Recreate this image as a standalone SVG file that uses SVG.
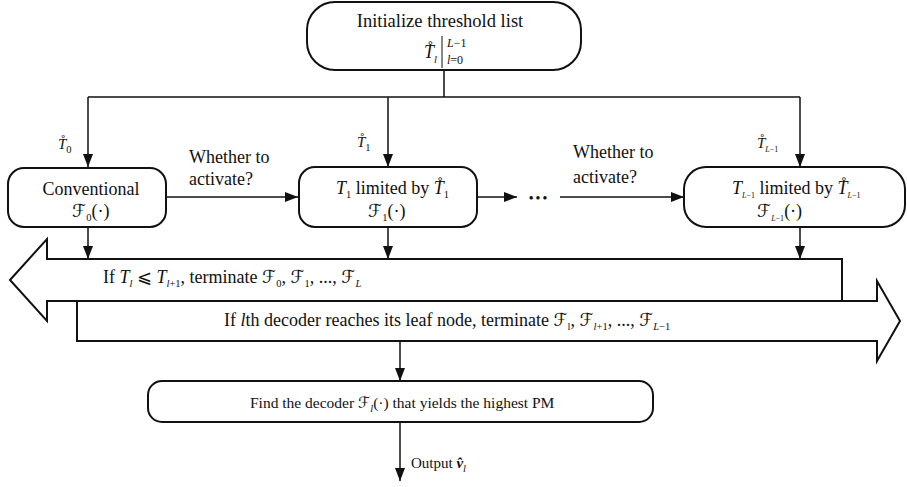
<svg xmlns="http://www.w3.org/2000/svg" width="907" height="487" viewBox="0 0 907 487" font-family="'Liberation Serif', 'DejaVu Serif', serif">
  <style>
    text { font-family: "Liberation Serif", "DejaVu Serif", serif; fill: #111; }
    .t18 { font-size: 18px; }
    .t17 { font-size: 18px; }
    .t16 { font-size: 15.5px; }
    .it { font-style: italic; }
    .scr { font-family: "DejaVu Serif", "DejaVu Sans", serif; font-style: italic; }
    .sub { font-size: 10.5px; }
    .tiny { font-size: 8px; }
    .box { fill: #fff; stroke: #111; stroke-width: 2; }
    .band { fill: #fff; stroke: #111; stroke-width: 2; }
    .wire { fill: none; stroke: #111; stroke-width: 1.5; }
  </style>
  <defs>
    <marker id="arrow" viewBox="0 0 13 10" refX="13" refY="5" markerWidth="13" markerHeight="10" markerUnits="userSpaceOnUse" orient="auto">
      <path d="M0,0 L13,5 L0,10 Z" fill="#111"/>
    </marker>
  </defs>

  <rect width="907" height="487" fill="#fff"/>

  <!-- wide band arrows carrying the termination rules -->
  <g id="terminate-left">
    <polygon class="band" points="10,280 47,239 47,259 842,259 842,301 47,301 47,321"/>
    <text class="t17" x="103" y="283">If <tspan class="it">T</tspan><tspan class="sub it" dy="4">l</tspan><tspan dy="-4"> ⩽ </tspan><tspan class="it">T</tspan><tspan class="sub" dy="4"><tspan class="it">l</tspan>+1</tspan><tspan dy="-4">, terminate </tspan><tspan class="scr">ℱ</tspan><tspan class="sub" dy="4">0</tspan><tspan dy="-4">, </tspan><tspan class="scr">ℱ</tspan><tspan class="sub" dy="4">1</tspan><tspan dy="-4">, ..., </tspan><tspan class="scr">ℱ</tspan><tspan class="sub it" dy="4">L</tspan></text>
  </g>
  <g id="terminate-right">
    <polygon class="band" points="77,301 877,301 877,281 900,321 877,361 877,341 77,341"/>
    <text class="t17" x="224" y="326">If <tspan class="it">l</tspan>th decoder reaches its leaf node, terminate <tspan class="scr">ℱ</tspan><tspan class="sub" dy="4">l</tspan><tspan dy="-4">, </tspan><tspan class="scr">ℱ</tspan><tspan class="sub" dy="4"><tspan class="it">l</tspan>+1</tspan><tspan dy="-4">, ..., </tspan><tspan class="scr">ℱ</tspan><tspan class="sub" dy="4"><tspan class="it">L</tspan>−1</tspan></text>
  </g>

  <!-- connectors -->
  <g id="connectors">
    <path class="wire" d="M444,70 V97 M88,97 H800"/>
    <path class="wire" d="M88,97 V167" marker-end="url(#arrow)"/>
    <path class="wire" d="M388,97 V167" marker-end="url(#arrow)"/>
    <path class="wire" d="M800,97 V167" marker-end="url(#arrow)"/>
    <path class="wire" d="M166,197 H298" marker-end="url(#arrow)"/>
    <path class="wire" d="M477,197 H517" marker-end="url(#arrow)"/>
    <path class="wire" d="M560,197 H684" marker-end="url(#arrow)"/>
    <path class="wire" d="M88,227 V259" marker-end="url(#arrow)"/>
    <path class="wire" d="M388,227 V259" marker-end="url(#arrow)"/>
    <path class="wire" d="M800,227 V259" marker-end="url(#arrow)"/>
    <path class="wire" d="M400,341 V381" marker-end="url(#arrow)"/>
    <path class="wire" d="M400,422 V481" marker-end="url(#arrow)"/>
    <text x="539" y="200" text-anchor="middle" font-size="8" letter-spacing="2">●●●</text>
    <text class="t18" x="189" y="163">Whether to</text>
    <text class="t18" x="189" y="185">activate?</text>
    <text class="t18" x="573" y="158">Whether to</text>
    <text class="t18" x="573" y="183">activate?</text>
    <!-- thresholds handed to each decoder -->
    <text font-size="15" x="58" y="149"><tspan class="it">T̊</tspan><tspan class="sub" dy="4">0</tspan></text>
    <text font-size="15" x="357" y="147"><tspan class="it">T̊</tspan><tspan class="sub" dy="4">1</tspan></text>
    <text font-size="15" x="757" y="148"><tspan class="it">T̊</tspan><tspan class="tiny" dy="4"><tspan class="it">L</tspan>−1</tspan></text>
    <text font-size="15" x="411" y="468">Output <tspan font-weight="bold" class="it">v̂</tspan><tspan class="sub it" dy="4">l</tspan></text>
  </g>

  <g id="init">
    <rect class="box" x="307" y="2" width="274" height="68" rx="28"/>
    <text x="440" y="27" text-anchor="middle" font-size="18.5">Initialize threshold list</text>
    <text font-size="18" x="424" y="58"><tspan class="it">T̊</tspan><tspan class="sub it" dy="5">l</tspan></text>
    <line x1="442" y1="36" x2="442" y2="68" stroke="#111" stroke-width="1"/>
    <text font-size="12" x="447" y="47"><tspan class="it">L</tspan>−1</text>
    <text font-size="12" x="447" y="64"><tspan class="it">l</tspan>=0</text>
  </g>

  <g id="decoder-0">
    <rect class="box" x="8" y="168" width="158" height="59" rx="16"/>
    <text class="t18" x="91" y="195" text-anchor="middle">Conventional</text>
    <text class="t18" x="72" y="217"><tspan class="scr">ℱ</tspan><tspan class="sub" dy="4">0</tspan><tspan dy="-4">(·)</tspan></text>
  </g>

  <g id="decoder-1">
    <rect class="box" x="299" y="167" width="178" height="60" rx="16"/>
    <text class="t18" x="336" y="194"><tspan class="it">T</tspan><tspan class="sub" dy="4">1</tspan><tspan dy="-4"> limited by </tspan><tspan class="it">T̊</tspan><tspan class="sub" dy="4">1</tspan></text>
    <text class="t18" x="368" y="217"><tspan class="scr">ℱ</tspan><tspan class="sub" dy="4">1</tspan><tspan dy="-4">(·)</tspan></text>
  </g>

  <g id="decoder-last">
    <rect class="box" x="684" y="167" width="221" height="60" rx="22"/>
    <text class="t18" x="732" y="194"><tspan class="it">T</tspan><tspan class="tiny" dy="4"><tspan class="it">L</tspan>−1</tspan><tspan dy="-4"> limited by </tspan><tspan class="it">T̊</tspan><tspan class="tiny" dy="4"><tspan class="it">L</tspan>−1</tspan></text>
    <text class="t18" x="757" y="217"><tspan class="scr">ℱ</tspan><tspan class="tiny" dy="4"><tspan class="it">L</tspan>−1</tspan><tspan dy="-4">(·)</tspan></text>
  </g>

  <g id="select">
    <rect class="box" x="148" y="381" width="505" height="41" rx="14"/>
    <text class="t16" x="250" y="408">Find the decoder <tspan class="scr">ℱ</tspan><tspan class="sub it" dy="4">l</tspan><tspan dy="-4">(·) that yields the highest PM</tspan></text>
  </g>
</svg>
